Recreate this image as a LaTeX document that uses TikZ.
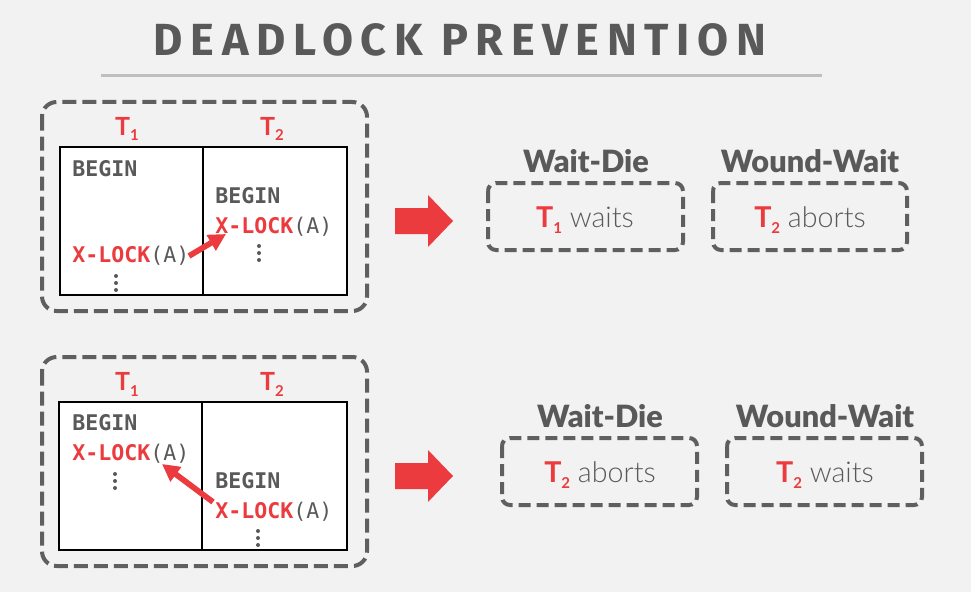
\documentclass[tikz,border=0pt]{standalone}
\usepackage{fontspec}
\setmainfont{Lato}
\setmonofont{DejaVu Sans Mono}
\newfontfamily\titlefont{Fira Sans}[LetterSpace=17]
\newfontfamily\headfont{Lato Black}
\newfontfamily\lightfont{Lato Light}
\newfontfamily\regfont{Lato}
\usetikzlibrary{arrows.meta}
\definecolor{bg}{HTML}{F2F2F2}
\definecolor{dgray}{HTML}{595959}
\definecolor{bgray}{HTML}{5F5F5F}
\definecolor{lgray}{HTML}{BFBFBF}
\definecolor{cred}{HTML}{EB3B3E}
\newcommand\tsub[1]{\raisebox{-4.5pt}{\fontsize{11.25}{11.25}\selectfont #1}}
\newcommand\Tlab[1]{\textcolor{cred}{T\tsub{#1}}}
\newcommand\Tres[1]{\textcolor{cred}{\regfont\bfseries T\tsub{#1}}}
\newcommand\xlock{\textcolor{cred}{\bfseries X-LOCK}\textcolor{dgray}{(A)}}
\newcommand\beginkw{\textcolor{dgray}{\bfseries BEGIN}}
\tikzset{
  outerbox/.style={draw=bgray, line width=3pt, dash pattern=on 10.5pt off 4.5pt, rounded corners=11pt},
  resbox/.style={draw=bgray, line width=3pt, dash pattern=on 9pt off 4.5pt, rounded corners=6pt},
  table/.style={draw=black, line width=0.9pt, fill=white},
  code/.style={anchor=base west, inner sep=0pt, font=\fontsize{16.2}{16.2}\selectfont\ttfamily},
  tlabel/.style={anchor=base, inner sep=0pt, font=\fontsize{18.75}{18.75}\selectfont\bfseries},
  header/.style={anchor=base, inner sep=0pt, text=dgray, font=\fontsize{23}{23}\selectfont\headfont},
  result/.style={anchor=base, inner sep=0pt, text=dgray, font=\fontsize{21.5}{21.5}\selectfont\lightfont},
  lockarrow/.style={draw=cred, line width=4.3pt, -{Triangle[length=13pt,width=13pt]}},
  bigarrow/.style={fill=cred},
  vdot/.style={fill=dgray}
}
\begin{document}
\begin{tikzpicture}[x=0.75pt,y=-0.75pt]
\fill[bg] (0,0) rectangle (971,592);
\useasboundingbox (0,0) rectangle (971,592);

% title
\node[anchor=base, inner sep=0pt, text=dgray, font=\fontsize{33.75}{33.75}\selectfont\titlefont\bfseries] (title) at (460,56) {DEADLOCK PREVENTION};
\draw[lgray, line width=2.25pt] (101,76) -- (822,76);

% ---------- top scenario ----------
\draw[outerbox] (42,102) rectangle (367,311);
\draw[table] (60,147) rectangle (347,295);
\draw[black, line width=0.9pt] (203,147) -- (203,295);
\node[tlabel] (t1a) at (127,135) {\Tlab{1}};
\node[tlabel] (t2a) at (272,135) {\Tlab{2}};
\node[code] (b1a) at (72,176) {\beginkw};
\node[code] (x1a) at (72,262) {\xlock};
\node[code] (b2a) at (215,203) {\beginkw};
\node[code] (x2a) at (215,233) {\xlock};
\foreach \y in {276,283,290} \fill[vdot] (116,\y) circle (1.5pt);
\foreach \y in {246,253,260} \fill[vdot] (259,\y) circle (1.5pt);
\coordinate (a1s) at (189,256);
\coordinate (a1e) at (226,234);
\draw[lockarrow] (a1s) -- (a1e);

\fill[bigarrow] (395,208) -- (428,208) -- (428,195) -- (453,221) -- (428,247) -- (428,234) -- (395,234) -- cycle;

\node[header] (wd1) at (586,172) {Wait-Die};
\node[header] (ww1) at (810,172) {Wound-Wait};
\draw[resbox] (488,183) rectangle (683,250);
\draw[resbox] (713,183) rectangle (907,250);
\node[result] (r1) at (585,227) {\Tres{1} waits};
\node[result] (r2) at (810,227) {\Tres{2} aborts};

% ---------- bottom scenario ----------
\draw[outerbox] (42,357) rectangle (367,566);
\draw[table] (59,402) rectangle (347,550);
\draw[black, line width=0.9pt] (202,402) -- (202,550);
\node[tlabel] (t1b) at (127,390) {\Tlab{1}};
\node[tlabel] (t2b) at (272,390) {\Tlab{2}};
\node[code] (b1b) at (72,430) {\beginkw};
\node[code] (x1b) at (72,460) {\xlock};
\node[code] (b2b) at (215,488) {\beginkw};
\node[code] (x2b) at (215,518) {\xlock};
\foreach \y in {474,481,488} \fill[vdot] (115,\y) circle (1.5pt);
\foreach \y in {531,538,545} \fill[vdot] (258,\y) circle (1.5pt);
\coordinate (a2s) at (213,502);
\coordinate (a2e) at (162,464);
\draw[lockarrow] (a2s) -- (a2e);

\fill[bigarrow] (395,463) -- (428,463) -- (428,450) -- (453,476) -- (428,502) -- (428,489) -- (395,489) -- cycle;

\node[header] (wd2) at (600,427) {Wait-Die};
\node[header] (ww2) at (825,427) {Wound-Wait};
\draw[resbox] (502,438) rectangle (697,505);
\draw[resbox] (727,438) rectangle (922,505);
\node[result] (r3) at (600,482) {\Tres{2} aborts};
\node[result] (r4) at (825,482) {\Tres{2} waits};
\end{tikzpicture}
\end{document}
